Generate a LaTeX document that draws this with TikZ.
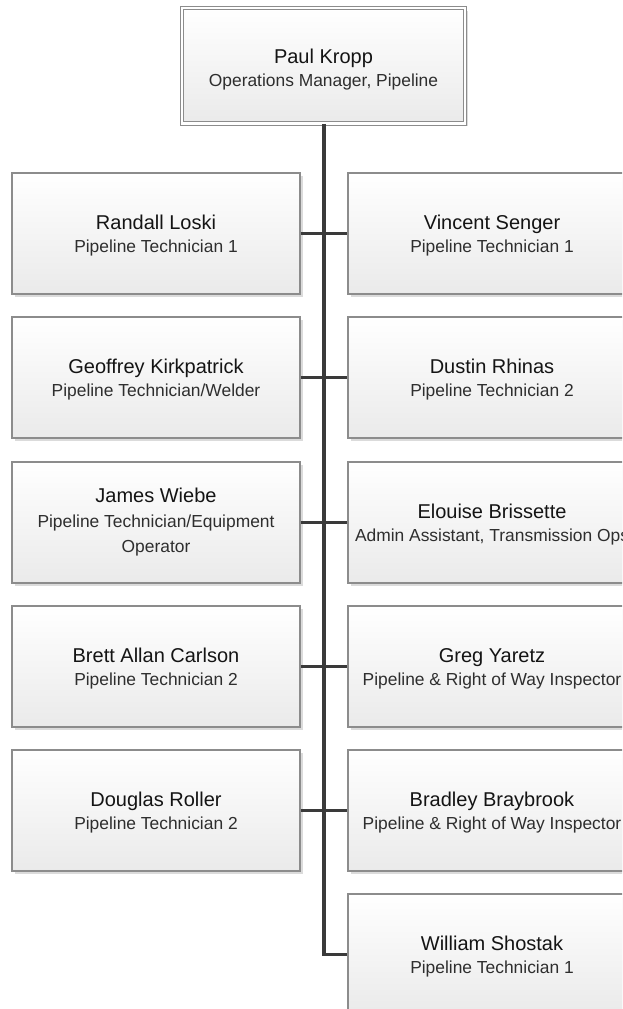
\documentclass[tikz,border=0pt]{standalone}
\usepackage{fontspec}
\setmainfont{Liberation Sans}
\usetikzlibrary{shadows}
\definecolor{cardline}{HTML}{8C8C8C}
\definecolor{linkline}{HTML}{3A3A3A}
\definecolor{cardshade}{HTML}{EAEAEA}
\tikzset{
  card/.style={rectangle, draw=cardline, line width=1.2pt,
    top color=white, bottom color=cardshade,
    minimum width=288pt, minimum height=121pt, inner sep=0pt,
    drop shadow={shadow xshift=3pt, shadow yshift=-3pt, fill=black!14, opacity=1}},
  headcard/.style={card, minimum width=283pt, minimum height=115.5pt,
    double=white, double distance=2.5pt, line width=1pt},
  nametext/.style={anchor=base, inner sep=0pt, font=\fontsize{20}{24}\selectfont, text=black!92},
  roletext/.style={anchor=base, inner sep=0pt, font=\fontsize{17.4}{21}\selectfont, text=black!82},
  trunk/.style={draw=linkline, line width=3.5pt},
  branch/.style={draw=linkline, line width=2.5pt},
}
% one staff card: node name, x, y (centre), person, role
\newcommand\orgcard[5]{%
  \node[card] (#1) at (#2,#3) {};
  \node[nametext] (#1-name) at ([yshift=4pt]#1.center) {#4};
  \node[roletext] (#1-role) at ([yshift=-19pt]#1.center) {#5};
}
\begin{document}
\begin{tikzpicture}[x=1pt, y=-1pt]
  \useasboundingbox (0,0) rectangle (622,1009);
  \clip (0,0) rectangle (622,1009);

  % manager
  \node[headcard] (pk) at (323.5,65.7) {};
  \node[nametext] (pk-name) at ([yshift=2.7pt]pk.center) {Paul Kropp};
  \node[roletext] (pk-role) at ([yshift=-20.3pt]pk.center) {Operations Manager, Pipeline};

  % left column
  \orgcard{rl}{156}{233.5}{Randall Loski}{Pipeline Technician 1}
  \orgcard{gk}{156}{377.5}{Geoffrey Kirkpatrick}{Pipeline Technician/Welder}
  \node[card] (jw) at (156,522.5) {};
  \node[nametext] (jw-name) at ([yshift=20.5pt]jw.center) {James Wiebe};
  \node[roletext] (jw-role) at ([yshift=-4.5pt]jw.center) {Pipeline Technician/Equipment};
  \node[roletext] (jw-role2) at ([yshift=-29.5pt]jw.center) {Operator};
  \orgcard{bc}{156}{666.5}{Brett Allan Carlson}{Pipeline Technician 2}
  \orgcard{dr}{156}{810.5}{Douglas Roller}{Pipeline Technician 2}

  % right column
  \orgcard{vs}{492}{233.5}{Vincent Senger}{Pipeline Technician 1}
  \orgcard{dh}{492}{377.5}{Dustin Rhinas}{Pipeline Technician 2}
  \orgcard{eb}{492}{522.5}{Elouise Brissette}{Admin Assistant, Transmission Ops}
  \orgcard{gy}{492}{666.5}{Greg Yaretz}{Pipeline \& Right of Way Inspector}
  \orgcard{bb}{492}{810.5}{Bradley Braybrook}{Pipeline \& Right of Way Inspector}
  \orgcard{ws}{492}{954.5}{William Shostak}{Pipeline Technician 1}

  % reporting lines
  \draw[trunk] ([xshift=0.5pt]pk.south) |- (ws.west);
  \draw[branch] (rl.east) -- (vs.west);
  \draw[branch] (gk.east) -- (dh.west);
  \draw[branch] (jw.east) -- (eb.west);
  \draw[branch] (bc.east) -- (gy.west);
  \draw[branch] (dr.east) -- (bb.west);
\end{tikzpicture}
\end{document}
